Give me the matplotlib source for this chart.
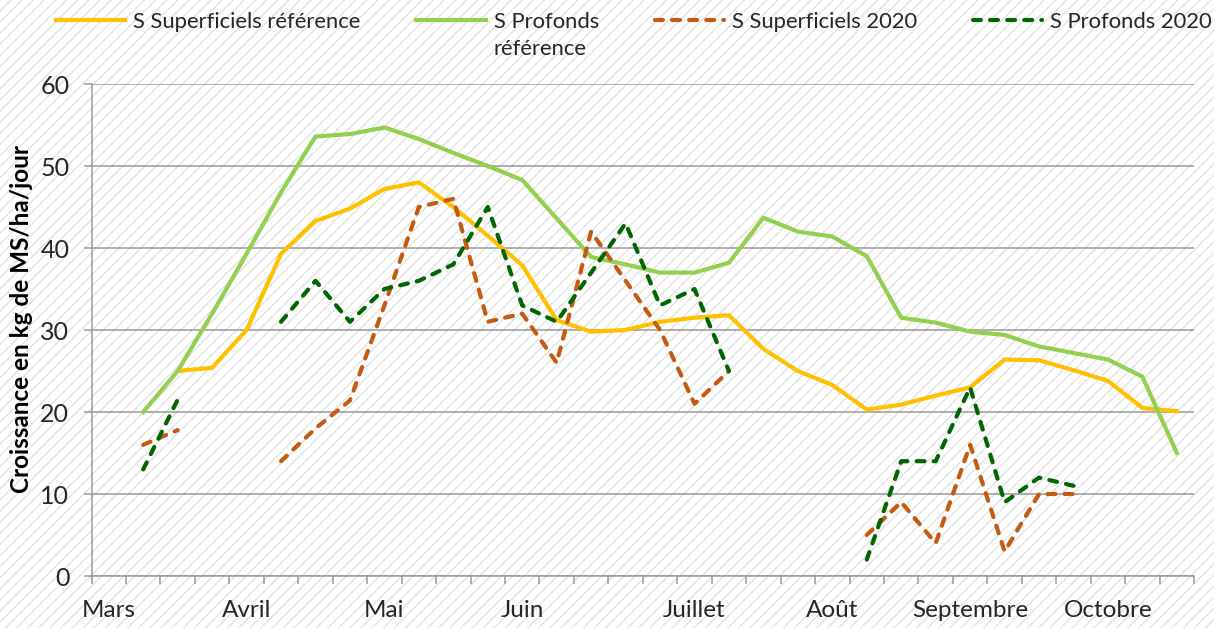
import numpy as np
import matplotlib
matplotlib.use("Agg")
import matplotlib.pyplot as plt
from matplotlib.patches import Rectangle

nan = np.nan

# semaines de mars a octobre
Semaines = list(range(32))
Mois = ["Mars", "", "", "", "Avril", "", "", "", "Mai", "", "", "",
        "Juin", "", "", "", "", "Juillet", "", "", "", "Août", "", "", "",
        "Septembre", "", "", "", "Octobre", "", ""]

SupRef = [nan, nan, 25, 25.4, 30, 39.3, 43.3, 44.8, 47.2, 48.0, 45, 41.5,
          37.9, 31.2, 29.8, 30.0, 31.0, 31.5, 31.8, 27.7, 25.0, 23.3, 20.3, 20.9,
          22.0, 23.0, 26.4, 26.3, 25.1, 23.8, 20.5, 20.1]
ProfRef = [nan, 20, 25, 32, 39.3, 46.8, 53.6, 53.9, 54.7, 53.3, 51.6, 50.0,
           48.3, 43.6, 38.9, 38.0, 37.0, 37.0, 38.2, 43.7, 42.0, 41.4, 39.0, 31.5,
           30.9, 29.8, 29.4, 28.0, 27.2, 26.4, 24.3, 15]
Sup2020 = [nan, 16, 17.8, nan, nan, 14, 18, 21.4, 33, 45, 46, 31,
           32, 26, 42, 36, 30, 21, 25, nan, nan, nan, 5, 9,
           4, 16, 3, 10, 10, nan, nan, nan]
Prof2020 = [nan, 13, 21.5, nan, nan, 31, 36, 31, 35, 36, 38, 45,
            33, 31, 37, 43, 33, 35, 25, nan, nan, nan, 2, 14,
            14, 23, 9, 12, 11, nan, nan, nan]

Legende = ['S Superficiels référence', 'S Profonds', 'S Superficiels 2020', 'S Profonds 2020']

plt.rcParams['font.family'] = ['Lato', 'DejaVu Sans']
plt.rcParams['hatch.color'] = '#E0E0E0'
plt.rcParams['hatch.linewidth'] = 0.9

fig = plt.figure(figsize=(12.14, 6.28), dpi=100)
# fond hachure
fig.patches.append(Rectangle((0, 0), 1, 1, transform=fig.transFigure, facecolor='white',
                             edgecolor='#E0E0E0', hatch='///', linewidth=0, zorder=-10))

ax = fig.add_axes([0.0754, 0.0828, 0.9082, 0.7834])
ax.set_facecolor('none')

grey = '#9A9A9A'
l1, = ax.plot(Semaines, SupRef, color='#FFC000', lw=3, solid_joinstyle='round')
l2, = ax.plot(Semaines, ProfRef, color='#92D050', lw=3, solid_joinstyle='round')
l3, = ax.plot(Semaines, Sup2020, color='#C55A11', lw=3,
              dash_capstyle='round', dash_joinstyle='round')
l4, = ax.plot(Semaines, Prof2020, color='#006600', lw=3,
              dash_capstyle='round', dash_joinstyle='round')
for l in (l3, l4):
    l.set_dashes((1.9, 2.2))

ax.set_xlim(-0.5, 31.5)
ax.set_ylim(0, 60)
ax.set_yticks(range(0, 61, 10))
ax.yaxis.grid(True, color=grey, lw=1.1)
ax.set_axisbelow(True)

ax.set_xticks(np.arange(-0.5, 32, 1))
ax.set_xticklabels([])
ax.set_xticks(Semaines, minor=True)
ax.set_xticklabels(Mois, minor=True)
ax.tick_params(axis='x', which='major', length=6, color=grey, width=1.1)
ax.tick_params(axis='x', which='minor', length=0, pad=17, labelsize=17.5, labelcolor='#262626')
ax.tick_params(axis='y', length=6, color=grey, width=1.1, pad=10, labelsize=18,
               labelcolor='#262626')

for s in ('top', 'right'):
    ax.spines[s].set_visible(False)
for s in ('left', 'bottom'):
    ax.spines[s].set_color(grey)
    ax.spines[s].set_linewidth(1.1)

ax.set_ylabel('Croissance en kg de MS/ha/jour', fontsize=17.5, fontweight='bold',
              color='black')
ax.yaxis.set_label_coords(-0.053, 0.522)

leg = fig.legend([l1, l2, l3, l4], Legende, loc='upper left', bbox_to_anchor=(0.046, 0.981),
                 ncol=4, frameon=False, fontsize=15.8, handlelength=3.15, handletextpad=0.37,
                 columnspacing=2.55, borderpad=0, borderaxespad=0, labelcolor='#262626')

# deuxieme ligne du libelle "S Profonds reference"
fig.canvas.draw()
bb = leg.get_texts()[1].get_window_extent()
fig.text(bb.x0 / fig.bbox.width, (bb.y0 - 7) / fig.bbox.height, 'référence',
         fontsize=15.8, color='#262626', ha='left', va='top')

fig.savefig('out.png', dpi=100)
